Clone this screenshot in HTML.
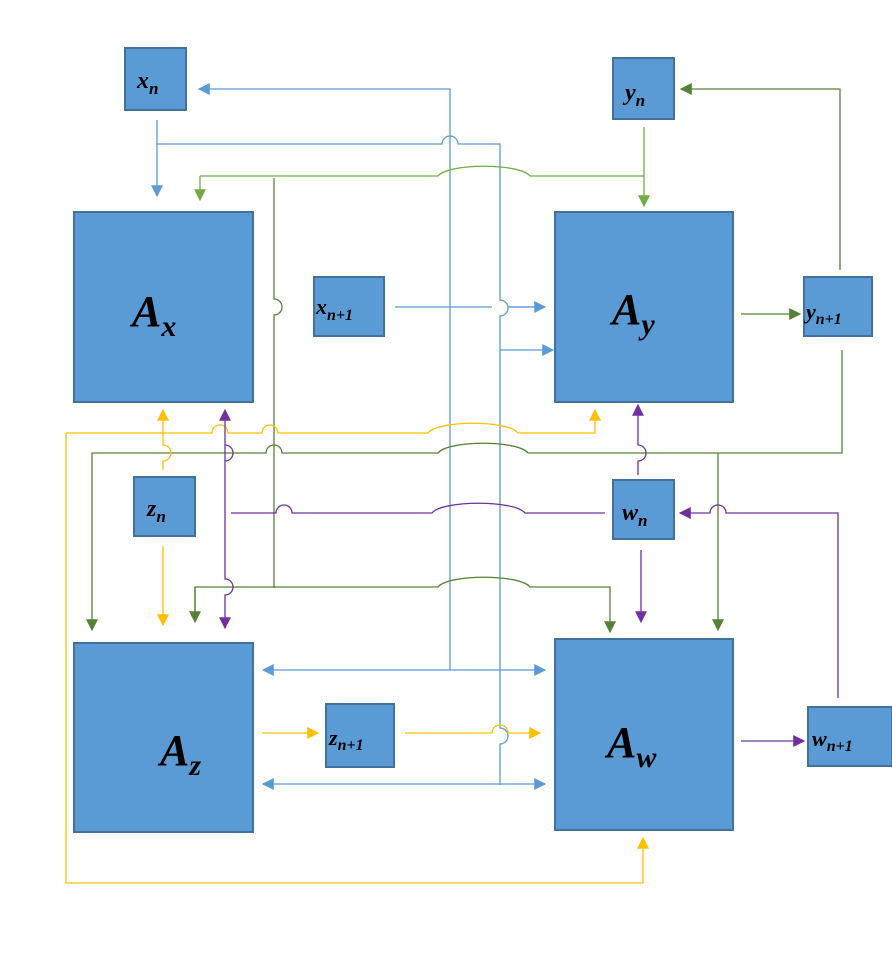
<!DOCTYPE html>
<html><head><meta charset="utf-8"><style>
body{margin:0;background:#fff;}
svg{display:block}
.b{fill:#5b9bd5;stroke:#41719c;stroke-width:2}
text{font-family:"Liberation Serif",serif;font-weight:bold;font-style:italic;fill:#000}
</style></head><body>
<svg width="892" height="957" viewBox="0 0 892 957" xmlns="http://www.w3.org/2000/svg">
<defs>
<marker id="mb" viewBox="0 0 10 10" refX="9" refY="5" markerWidth="7" markerHeight="7" orient="auto-start-reverse" markerUnits="userSpaceOnUse"><path d="M0,0L10,5L0,10z" fill="#5b9bd5"/></marker>
<marker id="mg" viewBox="0 0 10 10" refX="9" refY="5" markerWidth="12" markerHeight="12" orient="auto-start-reverse" markerUnits="userSpaceOnUse"><path d="M0,0L10,5L0,10z" fill="#548235"/></marker>
<marker id="ml" viewBox="0 0 10 10" refX="9" refY="5" markerWidth="12" markerHeight="12" orient="auto-start-reverse" markerUnits="userSpaceOnUse"><path d="M0,0L10,5L0,10z" fill="#70ad47"/></marker>
<marker id="my" viewBox="0 0 10 10" refX="9" refY="5" markerWidth="12" markerHeight="12" orient="auto-start-reverse" markerUnits="userSpaceOnUse"><path d="M0,0L10,5L0,10z" fill="#ffc000"/></marker>
<marker id="mp" viewBox="0 0 10 10" refX="9" refY="5" markerWidth="12" markerHeight="12" orient="auto-start-reverse" markerUnits="userSpaceOnUse"><path d="M0,0L10,5L0,10z" fill="#7030a0"/></marker>
<marker id="mB" viewBox="0 0 10 10" refX="9" refY="5" markerWidth="12" markerHeight="12" orient="auto-start-reverse" markerUnits="userSpaceOnUse"><path d="M0,0L10,5L0,10z" fill="#5b9bd5"/></marker>
</defs>
<g fill="none" stroke-width="1.3">
<!-- blue -->
<g stroke="#5b9bd5">
<path d="M450,670 V89 H199" marker-end="url(#mB)"/>
<path d="M500,785 V744 A8,8 0 0 0 500,728 V316 A8,8 0 0 0 500,300 V144 H458 A8,8 0 0 0 442,144 H157"/>
<path d="M157,120 V196" marker-end="url(#mB)"/>
<path d="M395,307 H492 M508,307 H545" />
<path d="M508,307 H545" marker-end="url(#mB)"/>
<path d="M500,350 H553" marker-end="url(#mB)"/>
<path d="M263,670 H545" marker-start="url(#mB)" marker-end="url(#mB)"/>
<path d="M263,784 H545" marker-start="url(#mB)" marker-end="url(#mB)"/>
</g>
<!-- green -->
<g stroke="#70ad47">
<path d="M200,176 V200" marker-end="url(#ml)"/>
<path d="M644,127 V206" marker-end="url(#ml)"/>
<path d="M200,176 H438 C448,163 520,163 530,176 H644"/>
</g>
<g stroke="#548235">
<path d="M274,178 V299 A8,8 0 0 1 274,315 V588"/>
<path d="M741,314 H800" marker-end="url(#mg)"/>
<path d="M840,270 V89 H681" marker-end="url(#mg)"/>
<path d="M842,350 V453 H528 C518,440 448,440 438,453 H282 A8,8 0 0 0 266,453 H92 V630" marker-end="url(#mg)"/>
<path d="M718,453 V630" marker-end="url(#mg)"/>
<path d="M195,622 V587 H438 C448,574 520,574 530,587 H610 V632" marker-end="url(#mg)"/>
<path d="M195,587 V622" marker-end="url(#mg)"/>
</g>
<!-- yellow -->
<g stroke="#ffc000">
<path d="M66,433 V883 H643 V838" marker-end="url(#my)"/>
<path d="M66,433 H212 A8,8 0 0 1 228,433 H262 A8,8 0 0 1 278,433 H428 C438,420 508,420 518,433 H595 V410" marker-end="url(#my)"/>
<path d="M163,470 V461 A8,8 0 0 0 163,445 V410" marker-end="url(#my)"/>
<path d="M163,546 V625" marker-end="url(#my)"/>
<path d="M262,733 H318" marker-end="url(#my)"/>
<path d="M405,733 H492 A8,8 0 0 1 508,733 H540" marker-end="url(#my)"/>
</g>
<!-- purple -->
<g stroke="#7030a0">
<path d="M225,461 V410" marker-end="url(#mp)"/>
<path d="M225,445 A8,8 0 0 1 225,461 V579 A8,8 0 0 1 225,595 V628" marker-end="url(#mp)"/>
<path d="M231,513 H276 A8,8 0 0 1 292,513 H432 C442,500 515,500 525,513 H605"/>
<path d="M638,475 V461 A8,8 0 0 0 638,445 V405" marker-end="url(#mp)"/>
<path d="M641,550 V622" marker-end="url(#mp)"/>
<path d="M838,698 V513 H726 A8,8 0 0 0 710,513 H680" marker-end="url(#mp)"/>
<path d="M741,741 H804" marker-end="url(#mp)"/>
</g>
</g>
<!-- boxes -->
<rect class="b" x="125" y="48" width="61" height="62"/>
<rect class="b" x="74" y="212" width="179" height="190"/>
<rect class="b" x="314" y="277" width="70" height="59"/>
<rect class="b" x="613" y="58" width="61" height="61"/>
<rect class="b" x="555" y="212" width="178" height="190"/>
<rect class="b" x="804" y="277" width="68" height="59"/>
<rect class="b" x="134" y="477" width="61" height="59"/>
<rect class="b" x="613" y="480" width="61" height="59"/>
<rect class="b" x="74" y="643" width="179" height="189"/>
<rect class="b" x="326" y="704" width="68" height="63"/>
<rect class="b" x="555" y="639" width="178" height="191"/>
<rect class="b" x="808" y="707" width="84" height="59"/>
<!-- labels -->
<text x="137" y="88" font-size="24">x<tspan font-size="17" dy="6">n</tspan></text>
<text x="132" y="326" font-size="44">A<tspan font-size="30" dy="10">x</tspan></text>
<text x="316" y="314" font-size="22">x<tspan font-size="16" dy="6" font-style="italic">n+1</tspan></text>
<text x="625" y="100" font-size="24">y<tspan font-size="17" dy="6">n</tspan></text>
<text x="612" y="324" font-size="44">A<tspan font-size="30" dy="10">y</tspan></text>
<text x="806" y="319" font-size="22" font-weight="normal">y<tspan font-size="16" dy="5">n+1</tspan></text>
<text x="147" y="516" font-size="24">z<tspan font-size="17" dy="6">n</tspan></text>
<text x="160" y="765" font-size="44">A<tspan font-size="30" dy="10">z</tspan></text>
<text x="329" y="745" font-size="22" font-weight="normal">z<tspan font-size="16" dy="5">n+1</tspan></text>
<text x="622" y="520" font-size="24">w<tspan font-size="17" dy="6">n</tspan></text>
<text x="607" y="757" font-size="44">A<tspan font-size="30" dy="10">w</tspan></text>
<text x="812" y="746" font-size="22" font-weight="normal">w<tspan font-size="16" dy="5">n+1</tspan></text>
</svg>
</body></html>
